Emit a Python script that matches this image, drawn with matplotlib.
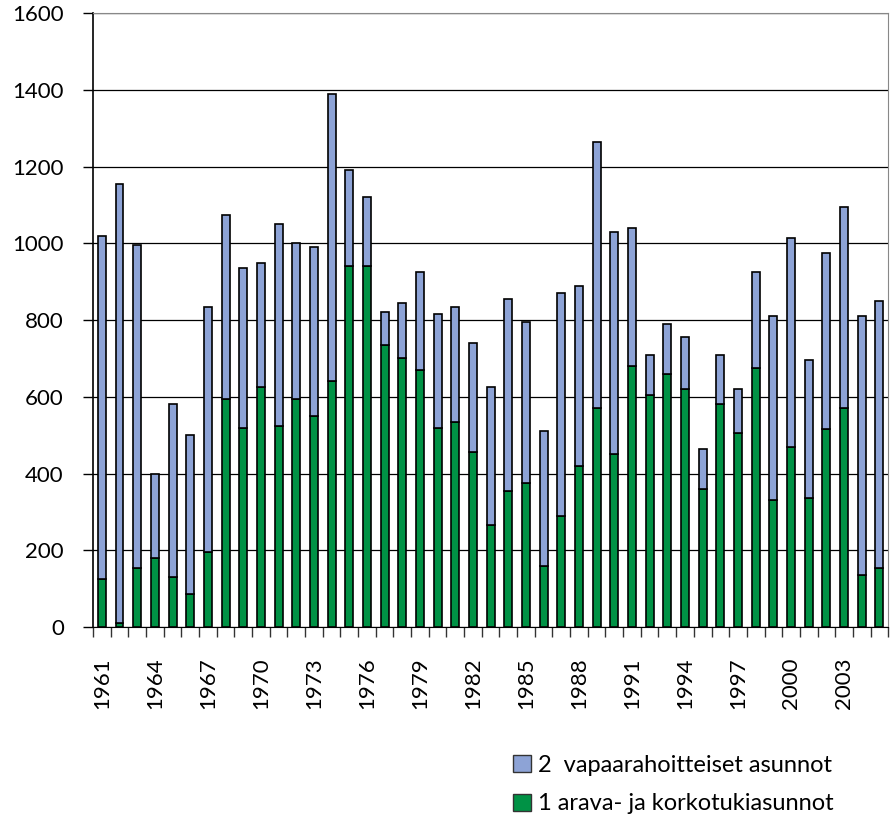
import numpy as np
import matplotlib.pyplot as plt
from matplotlib.patches import Patch

years = list(range(1961, 2006))
total = [1020, 1155, 995, 400, 580, 500, 835, 1075, 935, 950,
         1050, 1000, 990, 1390, 1190, 1120, 820, 845, 925, 815,
         835, 740, 625, 855, 795, 510, 870, 890, 1265, 1030,
         1040, 710, 790, 755, 465, 710, 620, 925, 810, 1015,
         695, 975, 1095, 810, 850]
arava = [125, 10, 155, 180, 130, 85, 195, 595, 520, 625,
         525, 595, 550, 640, 940, 940, 735, 700, 670, 520,
         535, 455, 265, 355, 375, 160, 290, 420, 570, 450,
         680, 605, 660, 620, 360, 580, 505, 675, 330, 470,
         335, 515, 570, 135, 155]
vapaa = [t - a for t, a in zip(total, arava)]

labels = ['2  vapaarahoitteiset asunnot', '1 arava- ja korkotukiasunnot']
blue = '#8da3d6'
green = '#009245'

plt.rcParams['font.family'] = ['Lato', 'DejaVu Sans']

fig = plt.figure(figsize=(8.9, 8.19), dpi=100)
ax = fig.add_axes([0.1045, 0.2344, 0.8935, 0.7496])

x = np.arange(len(years))
ax.bar(x, arava, width=0.45, color=green, edgecolor='black', linewidth=1.2, zorder=3)
ax.bar(x, vapaa, width=0.45, bottom=arava, color=blue, edgecolor='black', linewidth=1.2, zorder=3)

ax.set_xlim(-0.5, len(years) - 0.5)
ax.set_ylim(0, 1600)
ax.set_yticks(range(0, 1601, 200))
ax.yaxis.grid(True, color='black', linewidth=0.9, zorder=0)
ax.tick_params(axis='y', length=7, width=1, color='black', labelsize=16, pad=14)

# ticks at category boundaries, labels every third year
ax.set_xticks(np.arange(-0.5, len(years), 1.0))
ax.set_xticklabels([])
ax.tick_params(axis='x', which='major', length=7, width=1, color='#333333', direction='out')
lab_pos = x[::3]
ax.set_xticks(lab_pos, minor=True)
ax.set_xticklabels([str(years[i]) for i in lab_pos], minor=True, rotation=90, fontsize=16)
ax.tick_params(axis='x', which='minor', length=0, pad=22)

for s in ['top', 'right']:
    ax.spines[s].set_color('#888888')
ax.spines['left'].set_color('black')
ax.spines['left'].set_linewidth(1.2)
ax.spines['bottom'].set_color('black')

handles = [Patch(facecolor=blue, edgecolor='#333333'), Patch(facecolor=green, edgecolor='#333333')]
fig.legend(handles, labels, loc='center left', bbox_to_anchor=(0.553, 0.042),
           frameon=False, fontsize=17, handlelength=0.75, handleheight=0.75,
           handletextpad=0.3, labelspacing=0.75)

fig.savefig('out.png', dpi=100)
